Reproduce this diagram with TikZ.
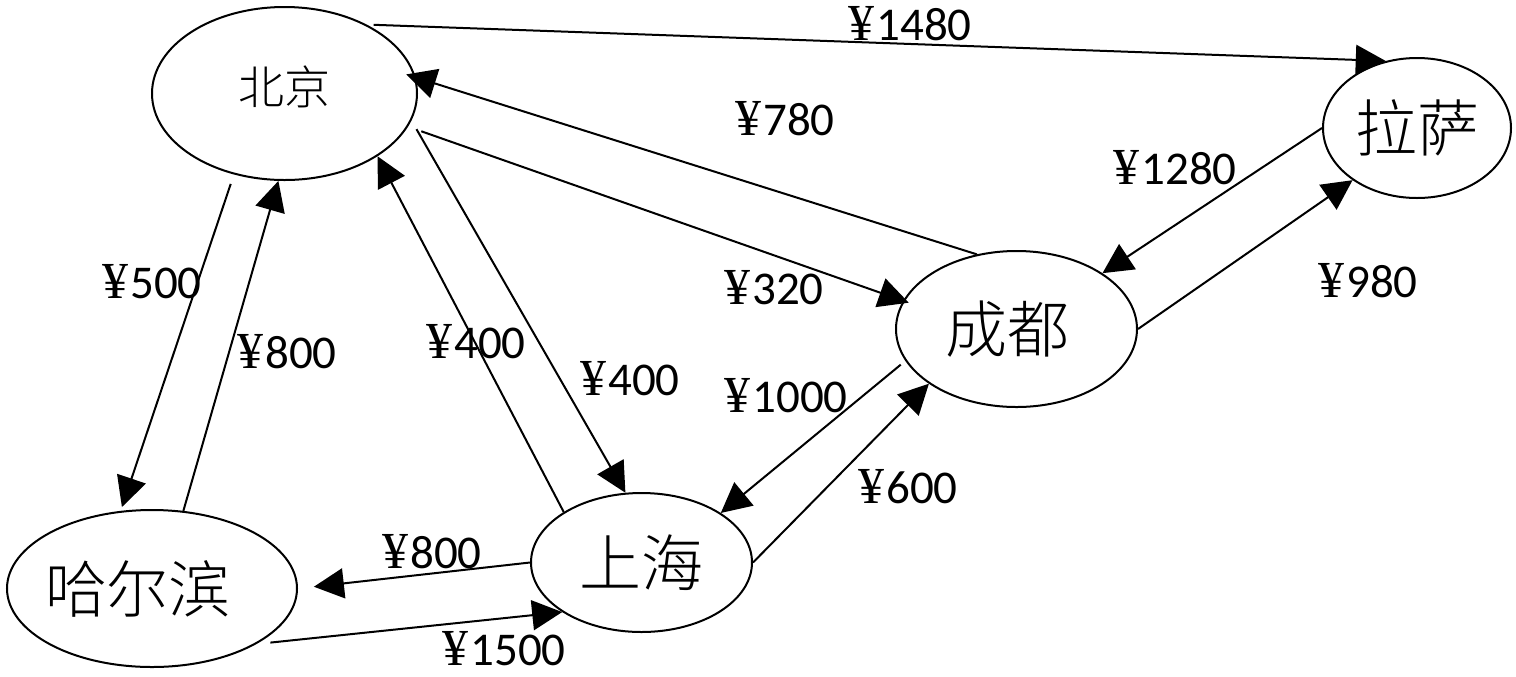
\documentclass[tikz,border=0pt]{standalone}
\usepackage{fontspec}
\setmainfont{Carlito}
\newfontfamily\cjk{Noto Sans CJK SC}[UprightFont={* Light}]
\newfontfamily\yenfont{Liberation Serif}
\usetikzlibrary{shapes.geometric,arrows.meta}
\newcommand\yuan[1]{{\yenfont\fontsize{26}{28}\selectfont ¥}\hspace{1pt}#1}

\begin{document}
\begin{tikzpicture}[x=0.5pt,y=-0.5pt,>={Triangle[length=15pt,width=15pt]},
    city/.style={draw,ellipse,line width=1pt,inner sep=0pt,font=\cjk\fontsize{31}{36}\selectfont},
    price/.style={inner sep=0pt,anchor=base,font=\fontsize{23.5}{28}\selectfont}]
    \useasboundingbox (0,0) rectangle (1516,676);
    % cities
    \node[city,minimum width=132.5pt,minimum height=86.5pt,font=\cjk\fontsize{23}{28}\selectfont] (bj) at (284.5,93.5) {\raisebox{8pt}{北京}};
    \node[city,minimum width=94pt,minimum height=70pt] (ls) at (1417,128) {\raisebox{-2pt}{拉萨}};
    \node[city,minimum width=120.5pt,minimum height=78pt] (cd) at (1016.5,329) {\kern-9pt成都};
    \node[city,minimum width=145pt,minimum height=78.5pt] (heb) at (152,588.5) {\kern-14pt哈尔滨};
    \node[city,minimum width=110.5pt,minimum height=69.5pt] (sh) at (641.5,562.5) {上海};
    % routes
    \begin{scope}[line width=1pt]
    \draw[->,shorten <=3.5pt] (bj.40) -- (ls.115);
    \draw[->,shorten >=-5pt] (cd.118) -- (bj.7);
    \draw[->,shorten <=7pt,shorten >=-3pt] (bj.-15) -- (cd.166);
    \draw[->,shorten <=5pt] (bj.-12) -- (sh.103);
    \draw[->] (sh.147) -- (bj.-34);
    \draw[->,shorten <=5pt,shorten >=2pt] (bj.-122) -- (heb.112);
    \draw[->] (heb.68) -- (bj.-94);
    \draw[->] (ls.180) -- (cd.33);
    \draw[->] (cd.0) -- (ls.-141);
    \draw[->,shorten <=3pt] (cd.-164) -- (sh.32);
    \draw[->] (sh.0) -- (cd.-148);
    \draw[->,shorten >=8pt] (sh.180) -- (heb.0);
    \draw[->,shorten <=7pt] (heb.-28) -- (sh.-148);
    \end{scope}
    % fares (base line)
    \node[price] (p1480) at (910,40) {\yuan{1480}};
    \node[price] (p780) at (785,135) {\yuan{780}};
    \node[price] (p320) at (774,304) {\yuan{320}};
    \node[price] (p1280) at (1175,184) {\yuan{1280}};
    \node[price] (p980) at (1368,297) {\yuan{980}};
    \node[price] (p500) at (152,298) {\yuan{500}};
    \node[price] (p800a) at (287,368) {\yuan{800}};
    \node[price] (p400a) at (476,358) {\yuan{400}};
    \node[price] (p400b) at (630,395) {\yuan{400}};
    \node[price] (p1000) at (786,412) {\yuan{1000}};
    \node[price] (p600) at (908,503) {\yuan{600}};
    \node[price] (p800b) at (432,568) {\yuan{800}};
    \node[price] (p1500) at (504,665) {\yuan{1500}};
\end{tikzpicture}
\end{document}
